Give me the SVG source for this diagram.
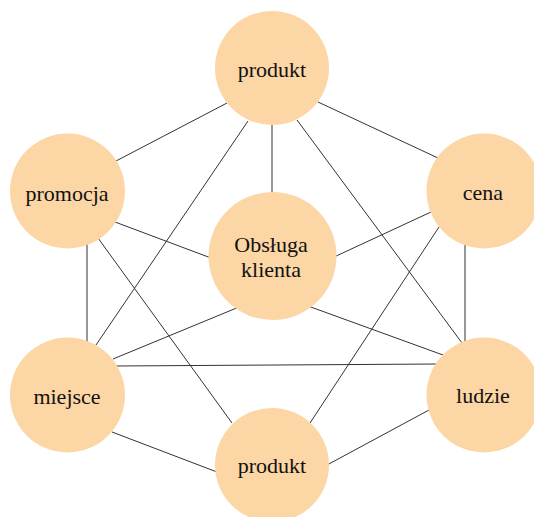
<svg xmlns="http://www.w3.org/2000/svg" width="534" height="517" viewBox="0 0 534 517">
<style>
.n{fill:#fcd6a4;stroke:none}
.t{font-family:"Liberation Serif","DejaVu Serif",serif;font-size:22px;fill:#111;text-anchor:middle}
.e line{stroke:#333;stroke-width:1}
</style>
<rect width="534" height="517" fill="#fff"/>
<g id="connectors" class="e">
<line x1="116" y1="161" x2="227" y2="103"/>
<line x1="318" y1="102" x2="438" y2="158"/>
<line x1="272" y1="120" x2="272" y2="195"/>
<line x1="248" y1="121" x2="96" y2="345"/>
<line x1="297" y1="120" x2="462" y2="343"/>
<line x1="115" y1="222" x2="211" y2="258"/>
<line x1="87" y1="240" x2="87" y2="345"/>
<line x1="98" y1="238" x2="232" y2="423"/>
<line x1="334" y1="257" x2="431" y2="212"/>
<line x1="465" y1="240" x2="465" y2="345"/>
<line x1="439" y1="227" x2="310" y2="423"/>
<line x1="113" y1="359" x2="239" y2="307"/>
<line x1="308" y1="306" x2="443" y2="355"/>
<line x1="115" y1="366" x2="438" y2="364"/>
<line x1="112" y1="432" x2="217" y2="472"/>
<line x1="327" y1="465" x2="429" y2="410"/>
</g>
<g id="produkt-top"><circle class="n" cx="272" cy="68" r="57"/><text class="t" x="272" y="77">produkt</text></g>
<g id="promocja"><circle class="n" cx="67.5" cy="191" r="57.5"/><text class="t" x="67" y="201">promocja</text></g>
<g id="cena"><circle class="n" cx="484" cy="191" r="57.5"/><text class="t" x="483" y="200">cena</text></g>
<g id="obsluga"><circle class="n" cx="272.5" cy="256" r="64"/><text class="t" x="271" y="252">Obsługa</text><text class="t" x="271" y="277">klienta</text></g>
<g id="miejsce"><circle class="n" cx="67.5" cy="395" r="57.5"/><text class="t" x="67" y="404">miejsce</text></g>
<g id="ludzie"><circle class="n" cx="484" cy="395" r="57.5"/><text class="t" x="483" y="403">ludzie</text></g>
<g id="produkt-bottom"><circle class="n" cx="272" cy="465" r="57"/><text class="t" x="272" y="473">produkt</text></g>
</svg>
